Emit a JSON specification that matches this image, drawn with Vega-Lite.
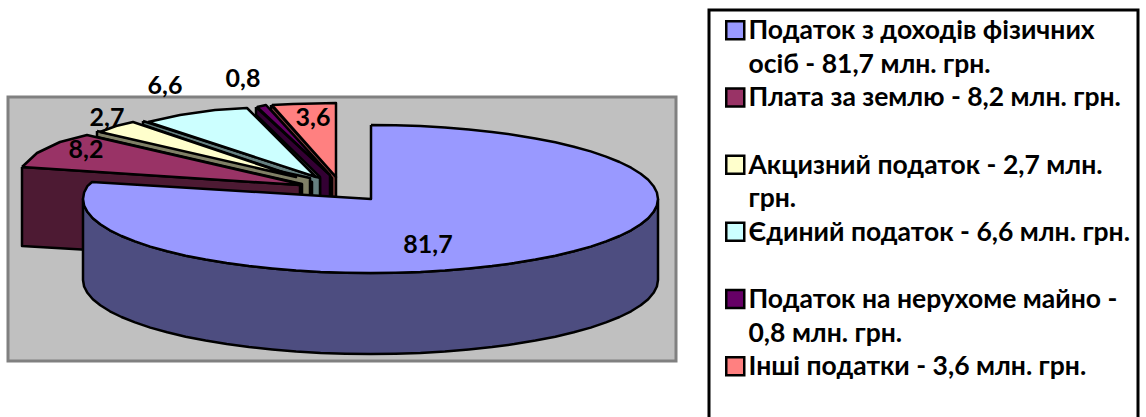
{"$schema":"https://vega.github.io/schema/vega-lite/v6.json","width":1146,"height":417,"autosize":"none","padding":0,"background":"white","config":{"view":{"stroke":null},"style":{"guide-label":{"lineHeight":33.5,"dy":-12}},"legend":{"strokeWidth":3}},"datasets":{"plot":[{"x0":8,"x1":676,"y0":97,"y1":361}],"labels":[{"value":"81,7","x":428,"y":245},{"value":"8,2","x":86,"y":150},{"value":"2,7","x":107,"y":118},{"value":"6,6","x":165,"y":86},{"value":"0,8","x":243,"y":79},{"value":"3,6","x":313,"y":118}],"pie":[
{"part":"Інші side","i":1,"x":271,"y":105},{"part":"Інші side","i":2,"x":271,"y":110},{"part":"Інші side","i":3,"x":332,"y":178},{"part":"Інші side","i":4,"x":332,"y":197},{"part":"Інші side","i":5,"x":336,"y":197},{"part":"Інші side","i":6,"x":336,"y":177},{"part":"Інші side","i":7,"x":271,"y":105},
{"part":"Інші податки - 3,6 млн. грн.\n ","i":1,"x":272,"y":105},{"part":"Інші податки - 3,6 млн. грн.\n ","i":2,"x":293,"y":104},{"part":"Інші податки - 3,6 млн. грн.\n ","i":3,"x":315,"y":103.5},{"part":"Інші податки - 3,6 млн. грн.\n ","i":4,"x":336,"y":103},{"part":"Інші податки - 3,6 млн. грн.\n ","i":5,"x":336,"y":177},{"part":"Інші податки - 3,6 млн. грн.\n ","i":6,"x":272,"y":105},
{"part":"майно side","i":1,"x":256,"y":107},{"part":"майно side","i":2,"x":256,"y":115},{"part":"майно side","i":3,"x":320,"y":177},{"part":"майно side","i":4,"x":320,"y":198},{"part":"майно side","i":5,"x":330,"y":198},{"part":"майно side","i":6,"x":330,"y":175},{"part":"майно side","i":7,"x":256,"y":107},
{"part":"Податок на нерухоме майно -\n0,8 млн. грн.","i":1,"x":257,"y":107},{"part":"Податок на нерухоме майно -\n0,8 млн. грн.","i":2,"x":266,"y":105},{"part":"Податок на нерухоме майно -\n0,8 млн. грн.","i":3,"x":330,"y":175},{"part":"Податок на нерухоме майно -\n0,8 млн. грн.","i":4,"x":257,"y":107},
{"part":"Єдиний side","i":1,"x":143,"y":121},{"part":"Єдиний side","i":2,"x":143,"y":125},{"part":"Єдиний side","i":3,"x":312,"y":182},{"part":"Єдиний side","i":4,"x":312,"y":198},{"part":"Єдиний side","i":5,"x":320,"y":198},{"part":"Єдиний side","i":6,"x":320,"y":178},{"part":"Єдиний side","i":7,"x":143,"y":121},
{"part":"Єдиний податок - 6,6 млн. грн.\n ","i":1,"x":148,"y":122},{"part":"Єдиний податок - 6,6 млн. грн.\n ","i":2,"x":180,"y":115},{"part":"Єдиний податок - 6,6 млн. грн.\n ","i":3,"x":215,"y":110},{"part":"Єдиний податок - 6,6 млн. грн.\n ","i":4,"x":247,"y":108},{"part":"Єдиний податок - 6,6 млн. грн.\n ","i":5,"x":316,"y":177},{"part":"Єдиний податок - 6,6 млн. грн.\n ","i":6,"x":148,"y":122},
{"part":"Акциз side","i":1,"x":97,"y":131},{"part":"Акциз side","i":2,"x":97,"y":137},{"part":"Акциз side","i":3,"x":302,"y":184},{"part":"Акциз side","i":4,"x":302,"y":198},{"part":"Акциз side","i":5,"x":310,"y":198},{"part":"Акциз side","i":6,"x":310,"y":178},{"part":"Акциз side","i":7,"x":97,"y":131},
{"part":"Акцизний податок - 2,7 млн.\nгрн.","i":1,"x":100,"y":132},{"part":"Акцизний податок - 2,7 млн.\nгрн.","i":2,"x":116,"y":126},{"part":"Акцизний податок - 2,7 млн.\nгрн.","i":3,"x":133,"y":122},{"part":"Акцизний податок - 2,7 млн.\nгрн.","i":4,"x":296,"y":177},{"part":"Акцизний податок - 2,7 млн.\nгрн.","i":5,"x":100,"y":132},
{"part":"Плата side","i":1,"x":22,"y":167},{"part":"Плата side","i":2,"x":22,"y":246},{"part":"Плата side","i":3,"x":90,"y":250},{"part":"Плата side","i":4,"x":300,"y":200},{"part":"Плата side","i":5,"x":300,"y":185},{"part":"Плата side","i":6,"x":22,"y":167},
{"part":"Плата за землю - 8,2 млн. грн.\n ","i":1,"x":22,"y":167},{"part":"Плата за землю - 8,2 млн. грн.\n ","i":2,"x":37,"y":153},{"part":"Плата за землю - 8,2 млн. грн.\n ","i":3,"x":60,"y":142},{"part":"Плата за землю - 8,2 млн. грн.\n ","i":4,"x":87,"y":135},{"part":"Плата за землю - 8,2 млн. грн.\n ","i":5,"x":291,"y":182},{"part":"Плата за землю - 8,2 млн. грн.\n ","i":6,"x":300,"y":185},{"part":"Плата за землю - 8,2 млн. грн.\n ","i":7,"x":22,"y":167},
{"part":"main side","i":1,"x":658,"y":199},{"part":"main side","i":2,"x":656.9,"y":205.5},{"part":"main side","i":3,"x":653.6,"y":211.8},{"part":"main side","i":4,"x":648.2,"y":218.2},{"part":"main side","i":5,"x":640.7,"y":224.3},{"part":"main side","i":6,"x":631.1,"y":230.3},{"part":"main side","i":7,"x":619.5,"y":236},{"part":"main side","i":8,"x":606,"y":241.4},{"part":"main side","i":9,"x":590.7,"y":246.6},{"part":"main side","i":10,"x":573.8,"y":251.3},{"part":"main side","i":11,"x":555.3,"y":255.7},{"part":"main side","i":12,"x":535.4,"y":259.6},{"part":"main side","i":13,"x":514.25,"y":263.1},{"part":"main side","i":14,"x":492,"y":266.1},{"part":"main side","i":15,"x":468.8,"y":268.5},{"part":"main side","i":16,"x":444.9,"y":270.5},{"part":"main side","i":17,"x":420.4,"y":271.9},{"part":"main side","i":18,"x":395.6,"y":272.7},{"part":"main side","i":19,"x":370.5,"y":273},{"part":"main side","i":20,"x":345.4,"y":272.7},{"part":"main side","i":21,"x":320.6,"y":271.9},{"part":"main side","i":22,"x":296.1,"y":270.5},{"part":"main side","i":23,"x":272.2,"y":268.5},{"part":"main side","i":24,"x":249,"y":266.1},{"part":"main side","i":25,"x":226.75,"y":263.1},{"part":"main side","i":26,"x":205.6,"y":259.6},{"part":"main side","i":27,"x":185.7,"y":255.7},{"part":"main side","i":28,"x":167.2,"y":251.3},{"part":"main side","i":29,"x":150.3,"y":246.6},{"part":"main side","i":30,"x":135,"y":241.4},{"part":"main side","i":31,"x":121.5,"y":236},{"part":"main side","i":32,"x":109.9,"y":230.3},{"part":"main side","i":33,"x":100.3,"y":224.3},{"part":"main side","i":34,"x":92.8,"y":218.2},{"part":"main side","i":35,"x":87.4,"y":211.8},{"part":"main side","i":36,"x":84.1,"y":205.5},{"part":"main side","i":37,"x":83,"y":199},
{"part":"main side","i":38,"x":83,"y":280},{"part":"main side","i":39,"x":84.1,"y":286.5},{"part":"main side","i":40,"x":87.4,"y":292.8},{"part":"main side","i":41,"x":92.8,"y":299.2},{"part":"main side","i":42,"x":100.3,"y":305.3},{"part":"main side","i":43,"x":109.9,"y":311.3},{"part":"main side","i":44,"x":121.5,"y":317},{"part":"main side","i":45,"x":135,"y":322.4},{"part":"main side","i":46,"x":150.3,"y":327.6},{"part":"main side","i":47,"x":167.2,"y":332.3},{"part":"main side","i":48,"x":185.7,"y":336.7},{"part":"main side","i":49,"x":205.6,"y":340.6},{"part":"main side","i":50,"x":226.75,"y":344.1},{"part":"main side","i":51,"x":249,"y":347.1},{"part":"main side","i":52,"x":272.2,"y":349.5},{"part":"main side","i":53,"x":296.1,"y":351.5},{"part":"main side","i":54,"x":320.6,"y":352.9},{"part":"main side","i":55,"x":345.4,"y":353.7},{"part":"main side","i":56,"x":370.5,"y":354},{"part":"main side","i":57,"x":395.6,"y":353.7},{"part":"main side","i":58,"x":420.4,"y":352.9},{"part":"main side","i":59,"x":444.9,"y":351.5},{"part":"main side","i":60,"x":468.8,"y":349.5},{"part":"main side","i":61,"x":492,"y":347.1},{"part":"main side","i":62,"x":514.25,"y":344.1},{"part":"main side","i":63,"x":535.4,"y":340.6},{"part":"main side","i":64,"x":555.3,"y":336.7},{"part":"main side","i":65,"x":573.8,"y":332.3},{"part":"main side","i":66,"x":590.7,"y":327.6},{"part":"main side","i":67,"x":606,"y":322.4},{"part":"main side","i":68,"x":619.5,"y":317},{"part":"main side","i":69,"x":631.1,"y":311.3},{"part":"main side","i":70,"x":640.7,"y":305.3},{"part":"main side","i":71,"x":648.2,"y":299.2},{"part":"main side","i":72,"x":653.6,"y":292.8},{"part":"main side","i":73,"x":656.9,"y":286.5},{"part":"main side","i":74,"x":658,"y":280},{"part":"main side","i":75,"x":658,"y":199},
{"part":"Податок з доходів фізичних\nосіб - 81,7 млн. грн.","i":1,"x":371,"y":125},{"part":"Податок з доходів фізичних\nосіб - 81,7 млн. грн.","i":2,"x":395.6,"y":125.3},{"part":"Податок з доходів фізичних\nосіб - 81,7 млн. грн.","i":3,"x":420.4,"y":126.1},{"part":"Податок з доходів фізичних\nосіб - 81,7 млн. грн.","i":4,"x":444.9,"y":127.5},{"part":"Податок з доходів фізичних\nосіб - 81,7 млн. грн.","i":5,"x":468.8,"y":129.5},{"part":"Податок з доходів фізичних\nосіб - 81,7 млн. грн.","i":6,"x":492,"y":131.9},{"part":"Податок з доходів фізичних\nосіб - 81,7 млн. грн.","i":7,"x":514.25,"y":134.9},{"part":"Податок з доходів фізичних\nосіб - 81,7 млн. грн.","i":8,"x":535.4,"y":138.4},{"part":"Податок з доходів фізичних\nосіб - 81,7 млн. грн.","i":9,"x":555.3,"y":142.3},{"part":"Податок з доходів фізичних\nосіб - 81,7 млн. грн.","i":10,"x":573.8,"y":146.7},{"part":"Податок з доходів фізичних\nосіб - 81,7 млн. грн.","i":11,"x":590.7,"y":151.4},{"part":"Податок з доходів фізичних\nосіб - 81,7 млн. грн.","i":12,"x":606,"y":156.6},{"part":"Податок з доходів фізичних\nосіб - 81,7 млн. грн.","i":13,"x":619.5,"y":162},{"part":"Податок з доходів фізичних\nосіб - 81,7 млн. грн.","i":14,"x":631.1,"y":167.7},{"part":"Податок з доходів фізичних\nосіб - 81,7 млн. грн.","i":15,"x":640.7,"y":173.7},{"part":"Податок з доходів фізичних\nосіб - 81,7 млн. грн.","i":16,"x":648.2,"y":179.8},{"part":"Податок з доходів фізичних\nосіб - 81,7 млн. грн.","i":17,"x":653.6,"y":186.2},{"part":"Податок з доходів фізичних\nосіб - 81,7 млн. грн.","i":18,"x":656.9,"y":192.5},{"part":"Податок з доходів фізичних\nосіб - 81,7 млн. грн.","i":19,"x":658,"y":199},{"part":"Податок з доходів фізичних\nосіб - 81,7 млн. грн.","i":20,"x":656.9,"y":205.5},{"part":"Податок з доходів фізичних\nосіб - 81,7 млн. грн.","i":21,"x":653.6,"y":211.8},{"part":"Податок з доходів фізичних\nосіб - 81,7 млн. грн.","i":22,"x":648.2,"y":218.2},{"part":"Податок з доходів фізичних\nосіб - 81,7 млн. грн.","i":23,"x":640.7,"y":224.3},{"part":"Податок з доходів фізичних\nосіб - 81,7 млн. грн.","i":24,"x":631.1,"y":230.3},{"part":"Податок з доходів фізичних\nосіб - 81,7 млн. грн.","i":25,"x":619.5,"y":236},{"part":"Податок з доходів фізичних\nосіб - 81,7 млн. грн.","i":26,"x":606,"y":241.4},{"part":"Податок з доходів фізичних\nосіб - 81,7 млн. грн.","i":27,"x":590.7,"y":246.6},{"part":"Податок з доходів фізичних\nосіб - 81,7 млн. грн.","i":28,"x":573.8,"y":251.3},{"part":"Податок з доходів фізичних\nосіб - 81,7 млн. грн.","i":29,"x":555.3,"y":255.7},{"part":"Податок з доходів фізичних\nосіб - 81,7 млн. грн.","i":30,"x":535.4,"y":259.6},{"part":"Податок з доходів фізичних\nосіб - 81,7 млн. грн.","i":31,"x":514.25,"y":263.1},{"part":"Податок з доходів фізичних\nосіб - 81,7 млн. грн.","i":32,"x":492,"y":266.1},{"part":"Податок з доходів фізичних\nосіб - 81,7 млн. грн.","i":33,"x":468.8,"y":268.5},{"part":"Податок з доходів фізичних\nосіб - 81,7 млн. грн.","i":34,"x":444.9,"y":270.5},{"part":"Податок з доходів фізичних\nосіб - 81,7 млн. грн.","i":35,"x":420.4,"y":271.9},{"part":"Податок з доходів фізичних\nосіб - 81,7 млн. грн.","i":36,"x":395.6,"y":272.7},{"part":"Податок з доходів фізичних\nосіб - 81,7 млн. грн.","i":37,"x":370.5,"y":273},{"part":"Податок з доходів фізичних\nосіб - 81,7 млн. грн.","i":38,"x":345.4,"y":272.7},{"part":"Податок з доходів фізичних\nосіб - 81,7 млн. грн.","i":39,"x":320.6,"y":271.9},{"part":"Податок з доходів фізичних\nосіб - 81,7 млн. грн.","i":40,"x":296.1,"y":270.5},{"part":"Податок з доходів фізичних\nосіб - 81,7 млн. грн.","i":41,"x":272.2,"y":268.5},{"part":"Податок з доходів фізичних\nосіб - 81,7 млн. грн.","i":42,"x":249,"y":266.1},{"part":"Податок з доходів фізичних\nосіб - 81,7 млн. грн.","i":43,"x":226.75,"y":263.1},{"part":"Податок з доходів фізичних\nосіб - 81,7 млн. грн.","i":44,"x":205.6,"y":259.6},{"part":"Податок з доходів фізичних\nосіб - 81,7 млн. грн.","i":45,"x":185.7,"y":255.7},{"part":"Податок з доходів фізичних\nосіб - 81,7 млн. грн.","i":46,"x":167.2,"y":251.3},{"part":"Податок з доходів фізичних\nосіб - 81,7 млн. грн.","i":47,"x":150.3,"y":246.6},{"part":"Податок з доходів фізичних\nосіб - 81,7 млн. грн.","i":48,"x":135,"y":241.4},{"part":"Податок з доходів фізичних\nосіб - 81,7 млн. грн.","i":49,"x":121.5,"y":236},{"part":"Податок з доходів фізичних\nосіб - 81,7 млн. грн.","i":50,"x":109.9,"y":230.3},{"part":"Податок з доходів фізичних\nосіб - 81,7 млн. грн.","i":51,"x":100.3,"y":224.3},{"part":"Податок з доходів фізичних\nосіб - 81,7 млн. грн.","i":52,"x":92.8,"y":218.2},{"part":"Податок з доходів фізичних\nосіб - 81,7 млн. грн.","i":53,"x":87.4,"y":211.8},{"part":"Податок з доходів фізичних\nосіб - 81,7 млн. грн.","i":54,"x":84.1,"y":205.5},{"part":"Податок з доходів фізичних\nосіб - 81,7 млн. грн.","i":55,"x":83,"y":199},{"part":"Податок з доходів фізичних\nосіб - 81,7 млн. грн.","i":56,"x":84.1,"y":192.5},{"part":"Податок з доходів фізичних\nосіб - 81,7 млн. грн.","i":57,"x":87.4,"y":186.2},{"part":"Податок з доходів фізичних\nосіб - 81,7 млн. грн.","i":58,"x":92,"y":182},{"part":"Податок з доходів фізичних\nосіб - 81,7 млн. грн.","i":59,"x":371,"y":199},{"part":"Податок з доходів фізичних\nосіб - 81,7 млн. грн.","i":60,"x":371,"y":125}
]},
"encoding":{"x":{"field":"x","type":"quantitative","axis":null,"scale":{"domain":[0,1146],"nice":false,"zero":false}},"y":{"field":"y","type":"quantitative","axis":null,"scale":{"domain":[417,0],"nice":false,"zero":false}}},
"layer":[
{"data":{"name":"plot"},"mark":{"type":"rect","fill":"#C0C0C0","stroke":"#808080","strokeWidth":3},"encoding":{"x":{"field":"x0","type":"quantitative"},"x2":{"field":"x1"},"y":{"field":"y0","type":"quantitative"},"y2":{"field":"y1"}}},
{"data":{"name":"pie"},"mark":{"type":"line","filled":true,"stroke":"black","strokeWidth":2.5,"strokeJoin":"round","clip":false},"encoding":{"order":{"field":"i","type":"quantitative"},"fill":{"field":"part","type":"nominal","scale":{"domain":["Податок з доходів фізичних\nосіб - 81,7 млн. грн.","Плата за землю - 8,2 млн. грн.\n ","Акцизний податок - 2,7 млн.\nгрн.","Єдиний податок - 6,6 млн. грн.\n ","Податок на нерухоме майно -\n0,8 млн. грн.","Інші податки - 3,6 млн. грн.\n ","main side","Плата side","Акциз side","Єдиний side","майно side","Інші side"],"range":["#9999FF","#993366","#FFFFCC","#CCFFFF","#660066","#FF8080","#4D4D80","#4D1A33","#808066","#668080","#330033","#804040"]},"legend":{"title":null,"orient":"none","legendX":709,"legendY":10,"values":["Податок з доходів фізичних\nосіб - 81,7 млн. грн.","Плата за землю - 8,2 млн. грн.\n ","Акцизний податок - 2,7 млн.\nгрн.","Єдиний податок - 6,6 млн. грн.\n ","Податок на нерухоме майно -\n0,8 млн. грн.","Інші податки - 3,6 млн. грн.\n "],"labelExpr":"split(datum.label,'\\n')","labelFont":"Lato","labelFontWeight":700,"labelFontSize":26.5,"labelColor":"black","labelLimit":420,"labelOffset":0,"labelBaseline":"top","symbolType":"square","symbolSize":324,"symbolStrokeColor":"black","symbolStrokeWidth":2.5,"symbolOffset":6,"rowPadding":4.2,"padding":7,"fillColor":"white","strokeColor":"black"}}}},
{"data":{"name":"labels"},"mark":{"type":"text","font":"Lato","fontWeight":700,"fontSize":25,"color":"black","baseline":"middle","align":"center"},"encoding":{"text":{"field":"value","type":"nominal"}}}
]}
